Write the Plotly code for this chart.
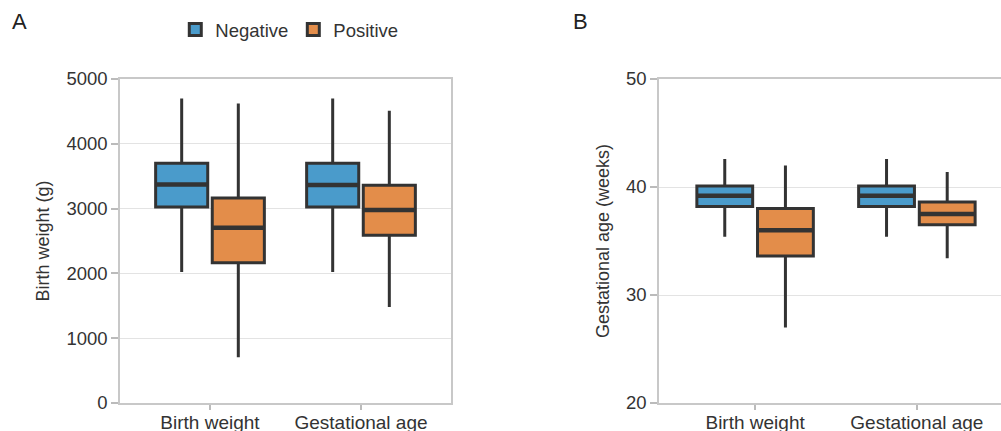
import plotly.graph_objects as go

categories = ["Birth weight", "Gestational age"]
groups = ["Negative", "Positive"]
colors = ["#4A9BCB", "#E38D4A"]

# Panel A: birth weight (g), per category, for each group
bw_neg_low = [2020, 2020]
bw_neg_q1 = [3025, 3025]
bw_neg_med = [3370, 3365]
bw_neg_q3 = [3700, 3700]
bw_neg_high = [4700, 4700]

bw_pos_low = [705, 1480]
bw_pos_q1 = [2165, 2590]
bw_pos_med = [2705, 2980]
bw_pos_q3 = [3165, 3360]
bw_pos_high = [4620, 4510]

# Panel B: gestational age (weeks)
ga_neg_low = [35.4, 35.4]
ga_neg_q1 = [38.2, 38.2]
ga_neg_med = [39.2, 39.2]
ga_neg_q3 = [40.1, 40.1]
ga_neg_high = [42.6, 42.6]

ga_pos_low = [27.0, 33.4]
ga_pos_q1 = [33.6, 36.5]
ga_pos_med = [36.0, 37.5]
ga_pos_q3 = [38.0, 38.6]
ga_pos_high = [42.0, 41.4]

FONT = "Liberation Sans, Arial, Helvetica, sans-serif"
TXT = "#333333"
LINE = "#333333"

fig = go.Figure()

panelA = [
    (bw_neg_low, bw_neg_q1, bw_neg_med, bw_neg_q3, bw_neg_high),
    (bw_pos_low, bw_pos_q1, bw_pos_med, bw_pos_q3, bw_pos_high),
]
panelB = [
    (ga_neg_low, ga_neg_q1, ga_neg_med, ga_neg_q3, ga_neg_high),
    (ga_pos_low, ga_pos_q1, ga_pos_med, ga_pos_q3, ga_pos_high),
]

for panel, (xa, ya, show, ag) in zip([panelA, panelB],
                                      [("x", "y", True, "A"), ("x2", "y2", False, "B")]):
    for i, (lo, q1, med, q3, hi) in enumerate(panel):
        fig.add_trace(go.Box(
            x=categories, lowerfence=lo, q1=q1, median=med, q3=q3, upperfence=hi,
            name=groups[i], legendgroup=groups[i], showlegend=show,
            alignmentgroup=ag, offsetgroup=groups[i],
            fillcolor=colors[i], line=dict(color=LINE, width=3),
            whiskerwidth=0, boxpoints=False, xaxis=xa, yaxis=ya,
        ))
        # thicker median bar drawn over the box (same slot)
        fig.add_trace(go.Box(
            x=categories, lowerfence=med, q1=med, median=med, q3=med, upperfence=med,
            name=groups[i], legendgroup=groups[i], showlegend=False,
            alignmentgroup=ag, offsetgroup=groups[i],
            fillcolor="rgba(0,0,0,0)", line=dict(color=LINE, width=4.5),
            whiskerwidth=0, boxpoints=False, xaxis=xa, yaxis=ya, hoverinfo="skip",
        ))

ydom = [1 - 403 / 431, 1 - 79 / 431]
common_x = dict(
    type="category", showline=True, linecolor="#c8c8c8", linewidth=1.5, mirror=True,
    ticks="outside", tickcolor="#bbbbbb", ticklen=5, tickwidth=1.5, showgrid=False,
    ticklabelstandoff=-4,
    tickfont=dict(size=19, color=TXT, family=FONT), automargin=False,
)
common_y = dict(
    showline=True, linecolor="#c8c8c8", linewidth=1.5,
    ticks="outside", tickcolor="#bbbbbb", ticklen=7, tickwidth=1.5,
    showgrid=True, gridcolor="#e3e3e3", gridwidth=1, zeroline=False,
    tickfont=dict(size=18.5, color=TXT, family=FONT), domain=ydom, automargin=False,
)

fig.update_layout(
    width=1001, height=431,
    margin=dict(l=0, r=0, t=0, b=0, autoexpand=False),
    paper_bgcolor="white", plot_bgcolor="white",
    font=dict(family=FONT, color=TXT, size=18),
    boxmode="group", boxgap=0.25, boxgroupgap=0.08,
    xaxis=dict(common_x, domain=[120 / 1001, 451 / 1001], range=[-0.596, 1.596]),
    yaxis=dict(common_y, range=[0, 5000], dtick=1000, mirror=True,
               title=dict(text="Birth weight (g)", font=dict(size=18, color=TXT), standoff=12)),
    xaxis2=dict(common_x, domain=[659 / 1001, 1.0], range=[-0.594, 1.52], anchor="y2"),
    yaxis2=dict(common_y, range=[20, 50], dtick=10, mirror=False, anchor="x2",
                title=dict(text="Gestational age (weeks)", font=dict(size=18, color=TXT), standoff=12)),
    legend=dict(orientation="h", x=0.289, xanchor="center", y=1 - 30 / 431, yanchor="middle",
                font=dict(size=18.5, color=TXT), bgcolor="rgba(0,0,0,0)"),
    annotations=[
        dict(text="A", x=10 / 1001, y=1 - 22 / 431, xref="paper", yref="paper",
             xanchor="left", yanchor="middle", showarrow=False, font=dict(size=22, color="#222")),
        dict(text="B", x=571 / 1001, y=1 - 22 / 431, xref="paper", yref="paper",
             xanchor="left", yanchor="middle", showarrow=False, font=dict(size=22, color="#222")),
    ],
)

fig.write_html(
    "out.html",
    config={"displayModeBar": False},
    post_script="document.body.style.margin='0';document.body.style.overflow='hidden';",
)
